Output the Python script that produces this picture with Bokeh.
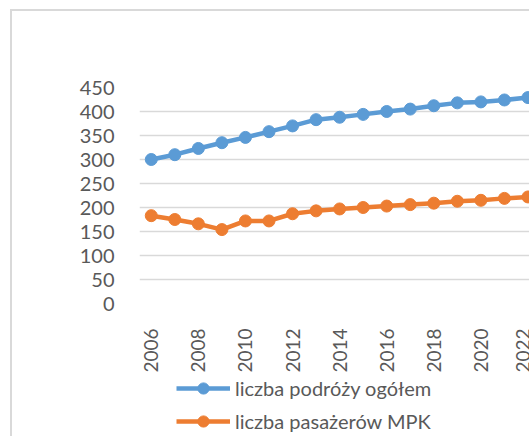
import math
from bokeh.plotting import figure
from bokeh.layouts import column
from bokeh.models import (Range1d, FixedTicker, Legend, LegendItem)
from bokeh.embed import file_html
from bokeh.resources import INLINE

years = list(range(2006, 2023))
podroze = [300, 310, 323, 335, 346, 358, 370, 383, 388, 394, 400, 405, 412, 418, 420, 424, 429]
pasazerowie = [183, 175, 166, 154, 172, 172, 187, 193, 197, 200, 203, 206, 209, 213, 215, 219, 222]
x_ticks = list(range(2006, 2023, 2))
y_ticks = list(range(0, 451, 50))
series_names = ["liczba podróży ogółem", "liczba pasażerów MPK"]
series_colors = ["#5B9BD5", "#ED7D31"]

TEXT = "#595959"
FONT = "Lato"
EDGE = "2px solid #d9d9d9"

p = figure(width=519, height=364, output_backend="svg", toolbar_location=None,
           x_range=Range1d(2005.5, 2022.15), y_range=Range1d(0, 450),
           min_border_left=127, min_border_right=0, min_border_top=76,
           min_border_bottom=69,
           styles={"border-left": EDGE, "border-top": EDGE})
p.margin = (9, 0, 0, 10)
p.outline_line_color = None
p.background_fill_color = "white"
p.border_fill_color = "white"

p.xgrid.grid_line_color = None
p.ygrid.grid_line_color = "#d9d9d9"
p.ygrid.grid_line_width = 1.5

p.yaxis.ticker = FixedTicker(ticks=y_ticks)
p.xaxis.ticker = FixedTicker(ticks=x_ticks)
for ax in (p.xaxis, p.yaxis):
    ax.axis_line_color = None
    ax.major_tick_line_color = None
    ax.minor_tick_line_color = None
    ax.major_tick_in = 0
    ax.major_tick_out = 0
    ax.major_label_text_font = FONT
    ax.major_label_text_color = TEXT
p.yaxis.major_label_text_font_size = "20px"
p.xaxis.major_label_text_font_size = "19px"
p.yaxis.major_label_standoff = 25
p.xaxis.major_label_standoff = 25
p.xaxis.major_label_orientation = math.pi / 2

for vals, col in zip([podroze, pasazerowie], series_colors):
    p.line(years, vals, line_color=col, line_width=4.5)
    p.scatter(years, vals, size=12, fill_color=col, line_color=col)

# legend strip below the chart (its ranges keep the series out of view;
# only the legend swatches show)
leg = figure(width=519, height=63, output_backend="svg", toolbar_location=None,
             x_range=Range1d(0, 1), y_range=Range1d(0, 1),
             x_axis_location=None, y_axis_location=None,
             min_border_left=0, min_border_right=0, min_border_top=0,
             min_border_bottom=0, styles={"border-left": EDGE})
leg.margin = (0, 0, 0, 10)
leg.outline_line_color = None
leg.grid.grid_line_color = None
items = []
for name, vals, col in zip(series_names, [podroze, pasazerowie], series_colors):
    lr = leg.line(years, vals, line_color=col, line_width=4.5)
    sr = leg.scatter(years, vals, size=12, fill_color=col, line_color=col)
    items.append(LegendItem(label=name, renderers=[lr, sr]))

legend = Legend(items=items, location=(37, 1), orientation="vertical")
legend.border_line_color = None
legend.background_fill_alpha = 0
legend.padding = 0
legend.margin = 0
legend.spacing = 5
legend.glyph_width = 54
legend.glyph_height = 28
legend.label_height = 28
legend.label_standoff = 5
legend.label_text_font = FONT
legend.label_text_font_size = "20px"
legend.label_text_color = TEXT
leg.add_layout(legend, "center")

layout = column(p, leg, spacing=0)
open("out.html", "w").write(file_html(layout, INLINE))
